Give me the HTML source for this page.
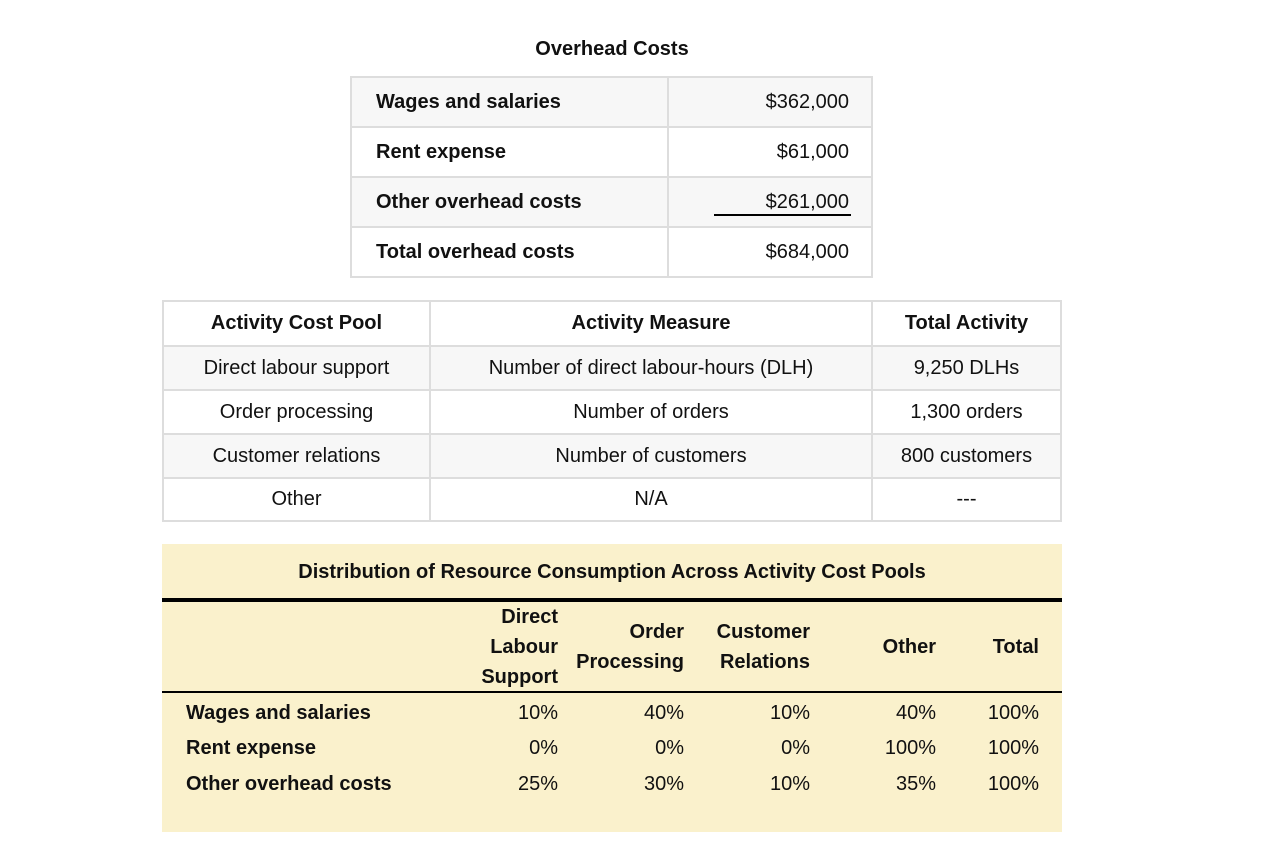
<!DOCTYPE html>
<html><head><meta charset="utf-8"><style>
body{margin:0;width:1288px;height:848px;background:#fff;font-family:"Liberation Sans",sans-serif;color:#111;position:relative;overflow:hidden}
div{box-sizing:border-box}
.a{position:absolute}
.t{position:absolute;font-size:20px;white-space:nowrap;line-height:24px}
.b{font-weight:bold}
.cell{position:absolute;border:2px solid #ddd;font-size:20px;display:flex;align-items:center;white-space:nowrap}
</style></head><body>
<div class="t b" style="left:0;width:1224px;text-align:center;top:37px">Overhead Costs</div>

<div>
<div class="cell b" style="left:350px;top:76px;width:319px;height:52px;background:#f7f7f7;padding-left:24px">Wages and salaries</div>
<div class="cell" style="left:667px;top:76px;width:206px;height:52px;background:#f7f7f7;justify-content:flex-end;padding-right:22px">$362,000</div>
<div class="cell b" style="left:350px;top:126px;width:319px;height:52px;padding-left:24px">Rent expense</div>
<div class="cell" style="left:667px;top:126px;width:206px;height:52px;justify-content:flex-end;padding-right:22px">$61,000</div>
<div class="cell b" style="left:350px;top:176px;width:319px;height:52px;background:#f7f7f7;padding-left:24px">Other overhead costs</div>
<div class="cell" style="left:667px;top:176px;width:206px;height:52px;background:#f7f7f7;justify-content:flex-end;padding-right:22px">$261,000</div>
<div class="a" style="left:714px;top:214px;width:137px;height:2px;background:#000"></div>
<div class="cell b" style="left:350px;top:226px;width:319px;height:52px;padding-left:24px">Total overhead costs</div>
<div class="cell" style="left:667px;top:226px;width:206px;height:52px;justify-content:flex-end;padding-right:22px">$684,000</div>
</div>

<div id="act"></div>
<script>
var rows=[["Activity Cost Pool","Activity Measure","Total Activity"],["Direct labour support","Number of direct labour-hours (DLH)","9,250 DLHs"],["Order processing","Number of orders","1,300 orders"],["Customer relations","Number of customers","800 customers"],["Other","N/A","---"]];
var xs=[162,429,871,1060],ys=[300,345,389,433,477,520];
var act=document.getElementById('act');
rows.forEach(function(r,i){r.forEach(function(c,j){
var d=document.createElement('div');


d.className='cell'+(i==0?' b':'');
d.style.cssText='left:'+xs[j]+'px;top:'+ys[i]+'px;width:'+(xs[j+1]-xs[j]+2)+'px;height:'+(ys[i+1]-ys[i]+2)+'px;justify-content:center;background:'+(i%2==1?'#f7f7f7':'#fff');
d.textContent=c;act.appendChild(d);});});
</script>

<div class="a" style="left:162px;top:544px;width:900px;height:288px;background:#faf1cc">
<div class="t b" style="left:0;width:900px;text-align:center;top:16px">Distribution of Resource Consumption Across Activity Cost Pools</div>
<div class="a" style="left:0;top:54px;width:900px;height:4px;background:#000"></div>
<div class="a" style="left:0;top:147px;width:900px;height:2px;background:#000"></div>
</div>
<div id="dist"></div>
<script>
var heads=[["Direct","Labour","Support"],["Order","Processing"],["Customer","Relations"],["Other"],["Total"]];
var labels=["Wages and salaries","Rent expense","Other overhead costs"];
var vals=[["10%","40%","10%","40%","100%"],["0%","0%","0%","100%","100%"],["25%","30%","10%","35%","100%"]];
var right=[558,684,810,936,1039],rowY=[701,736,772];
var dist=document.getElementById('dist');
heads.forEach(function(h,j){
var d=document.createElement('div');


d.className='a b';
d.style.cssText='font-size:20px;line-height:30px;text-align:right;white-space:nowrap;right:'+(1288-right[j])+'px;top:'+(647-h.length*15)+'px';
d.innerHTML=h.join('<br>');dist.appendChild(d);});
labels.forEach(function(l,i){
var d=document.createElement('div');


d.className='t b';d.style.left='186px';d.style.top=rowY[i]+'px';d.textContent=l;dist.appendChild(d);
vals[i].forEach(function(v,j){
var e=document.createElement('div');


e.className='t';e.style.right=(1288-right[j])+'px';e.style.top=rowY[i]+'px';e.textContent=v;dist.appendChild(e);});});
</script>
</body></html>
